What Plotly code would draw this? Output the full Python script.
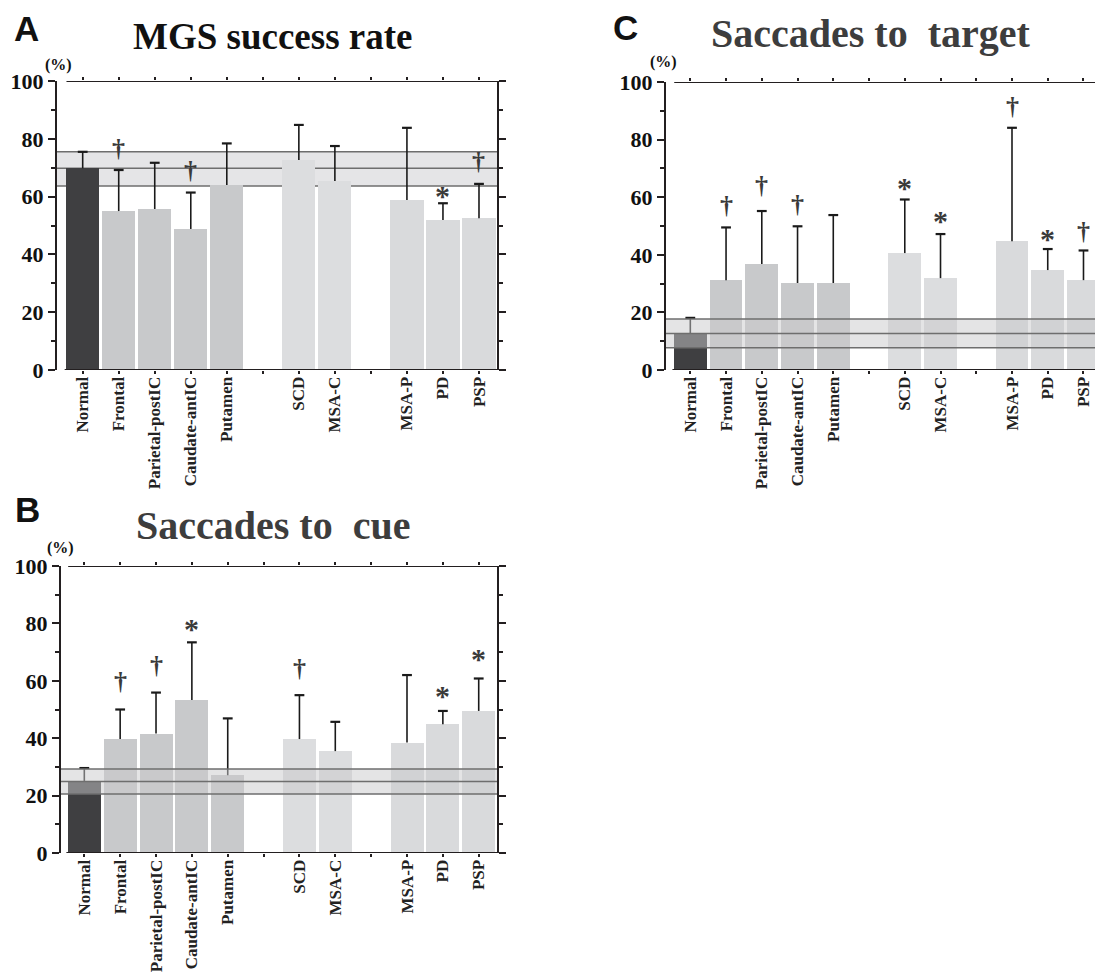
import plotly.graph_objects as go

# ---------------- data ----------------
categories = ["Normal", "Frontal", "Parietal-postIC", "Caudate-antIC", "Putamen",
              "SCD", "MSA-C", "MSA-P", "PD", "PSP"]
slots = [0, 1, 2, 3, 4, 6, 7, 9, 10, 11]          # category slots (5 and 8 are empty gaps)
groups = ["normal", "cortex", "cortex", "cortex", "cortex",
          "cereb", "cereb", "bg", "bg", "bg"]

# A: MGS success rate
mgs_mean = [69.8, 55.0, 55.7, 48.8, 64.0, 72.7, 65.4, 58.8, 51.9, 52.5]
mgs_err_top = [75.5, 69.2, 71.7, 61.4, 78.4, 84.8, 77.5, 83.8, 57.7, 64.4]
mgs_sig = ["", "†", "", "†", "", "", "", "", "*", "†"]
mgs_sig_y = [None, 75.8, None, 68.2, None, None, None, None, 62.0, 71.6]
mgs_band = [63.7, 69.8, 75.5]

# B: saccades to cue
cue_mean = [25.1, 39.7, 41.6, 53.3, 27.1, 39.7, 35.5, 38.5, 44.9, 49.5]
cue_err_top = [29.6, 50.0, 55.9, 73.4, 46.9, 55.0, 45.7, 62.0, 49.5, 60.8]
cue_sig = ["", "†", "†", "*", "", "†", "", "", "*", "*"]
cue_sig_y = [None, 59.2, 64.8, 79.8, None, 63.7, None, None, 56.7, 69.5]
cue_band = [20.6, 24.9, 29.3]

# C: saccades to target
tgt_mean = [12.7, 31.2, 36.8, 30.2, 30.2, 40.6, 31.9, 44.7, 34.7, 31.2]
tgt_err_top = [18.1, 49.5, 55.2, 49.9, 53.8, 59.2, 47.2, 84.1, 42.0, 41.5]
tgt_sig = ["", "†", "†", "†", "", "*", "*", "†", "*", "†"]
tgt_sig_y = [None, 56.5, 63.5, 56.9, None, 65.0, 53.8, 90.9, 47.3, 47.5]
tgt_band = [7.7, 12.7, 17.7]

y_ticks = [0, 20, 40, 60, 80, 100]

# ---------------- style / geometry ----------------
PAGE_W, PAGE_H = 1103, 975
OFF = 8                                   # default page (body) margin of the html file
FW, FH = PAGE_W - OFF, PAGE_H - OFF       # figure size so it ends at the window edge


def fx(px):
    return (px - OFF) / FW


def fy(py):
    return 1 - (py - OFF) / FH


group_colors = {"normal": "#3f3f41", "cortex": "#c8c9cb", "cereb": "#dcdddf", "bg": "#d9dadc"}
AXC = "#231f20"
ERRC = "#1a1a1a"
SERIF = "Liberation Serif"

panels = [
    dict(key="", letter="A", title="MGS success rate", title_color="#111111", title_size=37,
         mean=mgs_mean, top=mgs_err_top, sig=mgs_sig, sig_y=mgs_sig_y, band=mgs_band,
         px=(57, 497), py=(81, 370), xr=[-0.713, 11.5], band_above=False,
         title_xy=(273, 36), letter_xy=(26, 28), pct_xy=(58, 65)),
    dict(key="2", letter="B", title="Saccades to  cue", title_color="#3d3d3d", title_size=40,
         mean=cue_mean, top=cue_err_top, sig=cue_sig, sig_y=cue_sig_y, band=cue_band,
         px=(61, 497), py=(566, 853), xr=[-0.65, 11.51], band_above=True,
         title_xy=(273, 525), letter_xy=(27, 509), pct_xy=(60, 548)),
    dict(key="3", letter="C", title="Saccades to  target", title_color="#3d3d3d", title_size=40,
         mean=tgt_mean, top=tgt_err_top, sig=tgt_sig, sig_y=tgt_sig_y, band=tgt_band,
         px=(666, 1101), py=(82, 370), xr=[-0.68, 11.49], band_above=True,
         title_xy=(870, 33), letter_xy=(625, 27), pct_xy=(663, 62)),
]

fig = go.Figure()
shapes = []
annotations = []
layout_axes = {}

for p in panels:
    k = p["key"]
    xa, ya = "x" + k, "y" + k
    fig.add_trace(go.Bar(
        x=slots, y=p["mean"], xaxis=xa, yaxis=ya, width=0.92,
        marker=dict(color=[group_colors[g] for g in groups], line=dict(width=0)),
        showlegend=False, hoverinfo="skip",
    ))
    # one-sided (upper) error bars: stem from bar top to mean+SD, cap at the top only
    ex, ey = [], []
    for s, m, t in zip(slots, p["mean"], p["top"]):
        ex += [s, s, None]
        ey += [m, t, None]
    fig.add_trace(go.Scatter(
        x=ex, y=ey, xaxis=xa, yaxis=ya, mode="lines",
        line=dict(color=ERRC, width=1.6), showlegend=False, hoverinfo="skip",
    ))
    fig.add_trace(go.Scatter(
        x=slots, y=p["top"], xaxis=xa, yaxis=ya, mode="markers",
        marker=dict(symbol="line-ew", size=7, line=dict(color=ERRC, width=2.2)),
        showlegend=False, hoverinfo="skip",
    ))

    tickvals = list(range(12))
    ticktext = [""] * 12
    for s, c in zip(slots, categories):
        ticktext[s] = c
    layout_axes["xaxis" + k] = dict(
        domain=[fx(p["px"][0]), fx(p["px"][1])], range=p["xr"], anchor=ya, automargin=False,
        tickmode="array", tickvals=tickvals, ticktext=ticktext, tickangle=-90,
        ticks="outside", ticklen=3, tickwidth=1.5, tickcolor=AXC, ticklabelstandoff=-4,
        showline=False, mirror="ticks", showgrid=False, zeroline=False,
        tickfont=dict(family=SERIF, size=17, color="#222222", weight="bold"),
        fixedrange=True,
    )
    layout_axes["yaxis" + k] = dict(
        domain=[fy(p["py"][1]), fy(p["py"][0])], range=[0, 100], anchor=xa, automargin=False,
        tickmode="array", tickvals=y_ticks,
        ticks="outside", ticklen=7, tickwidth=1.5, tickcolor=AXC,
        minor=dict(dtick=10, ticks="outside", ticklen=4, tickwidth=1.5, tickcolor=AXC),
        showline=True, linecolor=AXC, linewidth=2, mirror="ticks",
        showgrid=False, zeroline=False,
        tickfont=dict(family=SERIF, size=22, color="#111111", weight="bold"),
        fixedrange=True,
    )

    # normal-range band (mean +/- SD of normal subjects)
    lo, mid, hi = p["band"]
    xr = p["xr"]
    if p["band_above"]:
        shapes.append(dict(type="rect", xref=xa, yref=ya, x0=xr[0], x1=xr[1], y0=lo, y1=hi,
                           fillcolor="rgba(201,201,203,0.5)", line=dict(width=0), layer="above"))
        blayer = "above"
    else:
        shapes.append(dict(type="rect", xref=xa, yref=ya, x0=xr[0], x1=xr[1], y0=lo, y1=hi,
                           fillcolor="#e5e5e7", line=dict(width=0), layer="below"))
        blayer = "below"
    for yy in (lo, mid, hi):
        shapes.append(dict(type="line", xref=xa, yref=ya, x0=xr[0], x1=xr[1], y0=yy, y1=yy,
                           line=dict(color="#6e6e6e", width=1.5), layer=blayer))

    # x axis lines (bottom and top), slightly detached from the y axis
    shapes.append(dict(type="line", xref=xa, yref=ya, x0=-0.5, x1=xr[1], y0=0, y1=0,
                       line=dict(color=AXC, width=2), layer="above"))
    shapes.append(dict(type="line", xref=xa, yref=ya, x0=-0.45, x1=xr[1], y0=100, y1=100,
                       line=dict(color=AXC, width=2), layer="above"))

    # significance markers
    for s, sym, yy in zip(slots, p["sig"], p["sig_y"]):
        if not sym:
            continue
        annotations.append(dict(
            x=s, y=yy, xref=xa, yref=ya, text=sym, showarrow=False,
            xanchor="center", yanchor="middle",
            yshift=-5 if sym == "*" else 2,
            font=dict(family=SERIF, size=30 if sym == "*" else 26, color="#3a3a3a", weight="bold"),
        ))

    # titles, panel letters, unit label
    annotations.append(dict(x=fx(p["title_xy"][0]), y=fy(p["title_xy"][1]), xref="paper", yref="paper",
                            text=p["title"], showarrow=False, xanchor="center", yanchor="middle",
                            font=dict(family=SERIF, size=p["title_size"], color=p["title_color"], weight="bold")))
    annotations.append(dict(x=fx(p["letter_xy"][0]), y=fy(p["letter_xy"][1]), xref="paper", yref="paper",
                            text=p["letter"], showarrow=False, xanchor="center", yanchor="middle",
                            font=dict(family="Liberation Sans", size=35, color="#111111", weight="bold")))
    annotations.append(dict(x=fx(p["pct_xy"][0]), y=fy(p["pct_xy"][1]), xref="paper", yref="paper",
                            text="(%)", showarrow=False, xanchor="center", yanchor="middle",
                            font=dict(family=SERIF, size=16, color="#111111", weight="bold")))

fig.update_layout(
    width=FW, height=FH, margin=dict(l=0, r=0, t=0, b=0, autoexpand=False),
    paper_bgcolor="white", plot_bgcolor="white",
    shapes=shapes, annotations=annotations, bargap=0,
    **layout_axes,
)

fig.write_html("out.html")
